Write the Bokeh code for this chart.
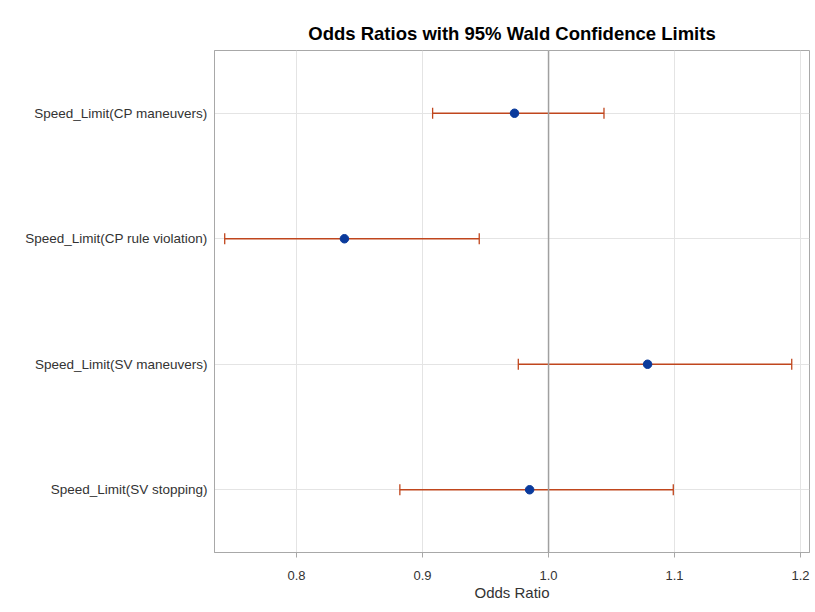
import math
from bokeh.plotting import figure
from bokeh.models import (FactorRange, Range1d, FixedTicker, Span, ColumnDataSource,
                          NumeralTickFormatter)
from bokeh.embed import file_html
from bokeh.resources import INLINE

effects = ["Speed_Limit(CP maneuvers)", "Speed_Limit(CP rule violation)",
           "Speed_Limit(SV maneuvers)", "Speed_Limit(SV stopping)"]
odds_ratio = [0.973, 0.838, 1.0786, 0.985]
lower_cl = [0.908, 0.743, 0.976, 0.882]
upper_cl = [1.044, 0.945, 1.193, 1.099]
x_ticks = [0.8, 0.9, 1.0, 1.1, 1.2]

FONT = "Liberation Sans"
src = ColumnDataSource(dict(effect=effects, orr=odds_ratio, lo=lower_cl, hi=upper_cl))

p = figure(width=815, height=612, output_backend="svg", toolbar_location=None,
           y_range=FactorRange(factors=list(reversed(effects)), range_padding=0),
           x_range=Range1d(0.7349, 1.2071),
           min_border_left=214, min_border_right=6, min_border_top=50, min_border_bottom=60,
           title="Odds Ratios with 95% Wald Confidence Limits")

p.title.align = "center"
p.title.text_font = FONT
p.title.text_font_size = "18.5px"
p.title.text_font_style = "bold"
p.title.text_color = "#000000"
p.title.standoff = 14

p.outline_line_color = "#a8a8a8"
p.outline_line_width = 1

p.xgrid.grid_line_color = "#e4e4e4"
p.ygrid.grid_line_color = "#e4e4e4"

p.xaxis.ticker = FixedTicker(ticks=x_ticks)
p.xaxis.formatter = NumeralTickFormatter(format="0.0")
p.xaxis.axis_label = "Odds Ratio"
p.xaxis.axis_label_text_font = FONT
p.xaxis.axis_label_text_font_size = "15px"
p.xaxis.axis_label_text_font_style = "normal"
p.xaxis.axis_label_text_color = "#333333"
p.xaxis.axis_label_standoff = 1
p.xaxis.major_label_text_font = FONT
p.xaxis.major_label_text_font_size = "13px"
p.xaxis.major_label_text_color = "#333333"
p.xaxis.major_label_standoff = 13
p.xaxis.axis_line_color = "#a8a8a8"
p.xaxis.major_tick_line_color = "#a8a8a8"
p.xaxis.major_tick_out = 5
p.xaxis.major_tick_in = 0
p.xaxis.minor_tick_line_color = None

p.yaxis.major_label_text_font = FONT
p.yaxis.major_label_text_font_size = "13.5px"
p.yaxis.major_label_text_color = "#333333"
p.yaxis.axis_line_color = "#a8a8a8"
p.yaxis.major_tick_line_color = None
p.yaxis.major_tick_out = 0
p.yaxis.major_label_standoff = 7

p.add_layout(Span(location=1.0, dimension="height", line_color="#a0a0a0", line_width=1.5))

err_color = "#c0461d"
p.segment(x0="lo", x1="hi", y0="effect", y1="effect", source=src,
          line_color=err_color, line_width=1.3)
p.scatter(x="lo", y="effect", source=src, marker="dash", angle=math.pi / 2,
          size=11, line_color=err_color, line_width=1.3)
p.scatter(x="hi", y="effect", source=src, marker="dash", angle=math.pi / 2,
          size=11, line_color=err_color, line_width=1.3)
p.scatter(x="orr", y="effect", source=src, marker="circle", size=8.5,
          fill_color="#0a3a9c", line_color="#0a3a9c")

open("out.html", "w").write(file_html(p, INLINE))
